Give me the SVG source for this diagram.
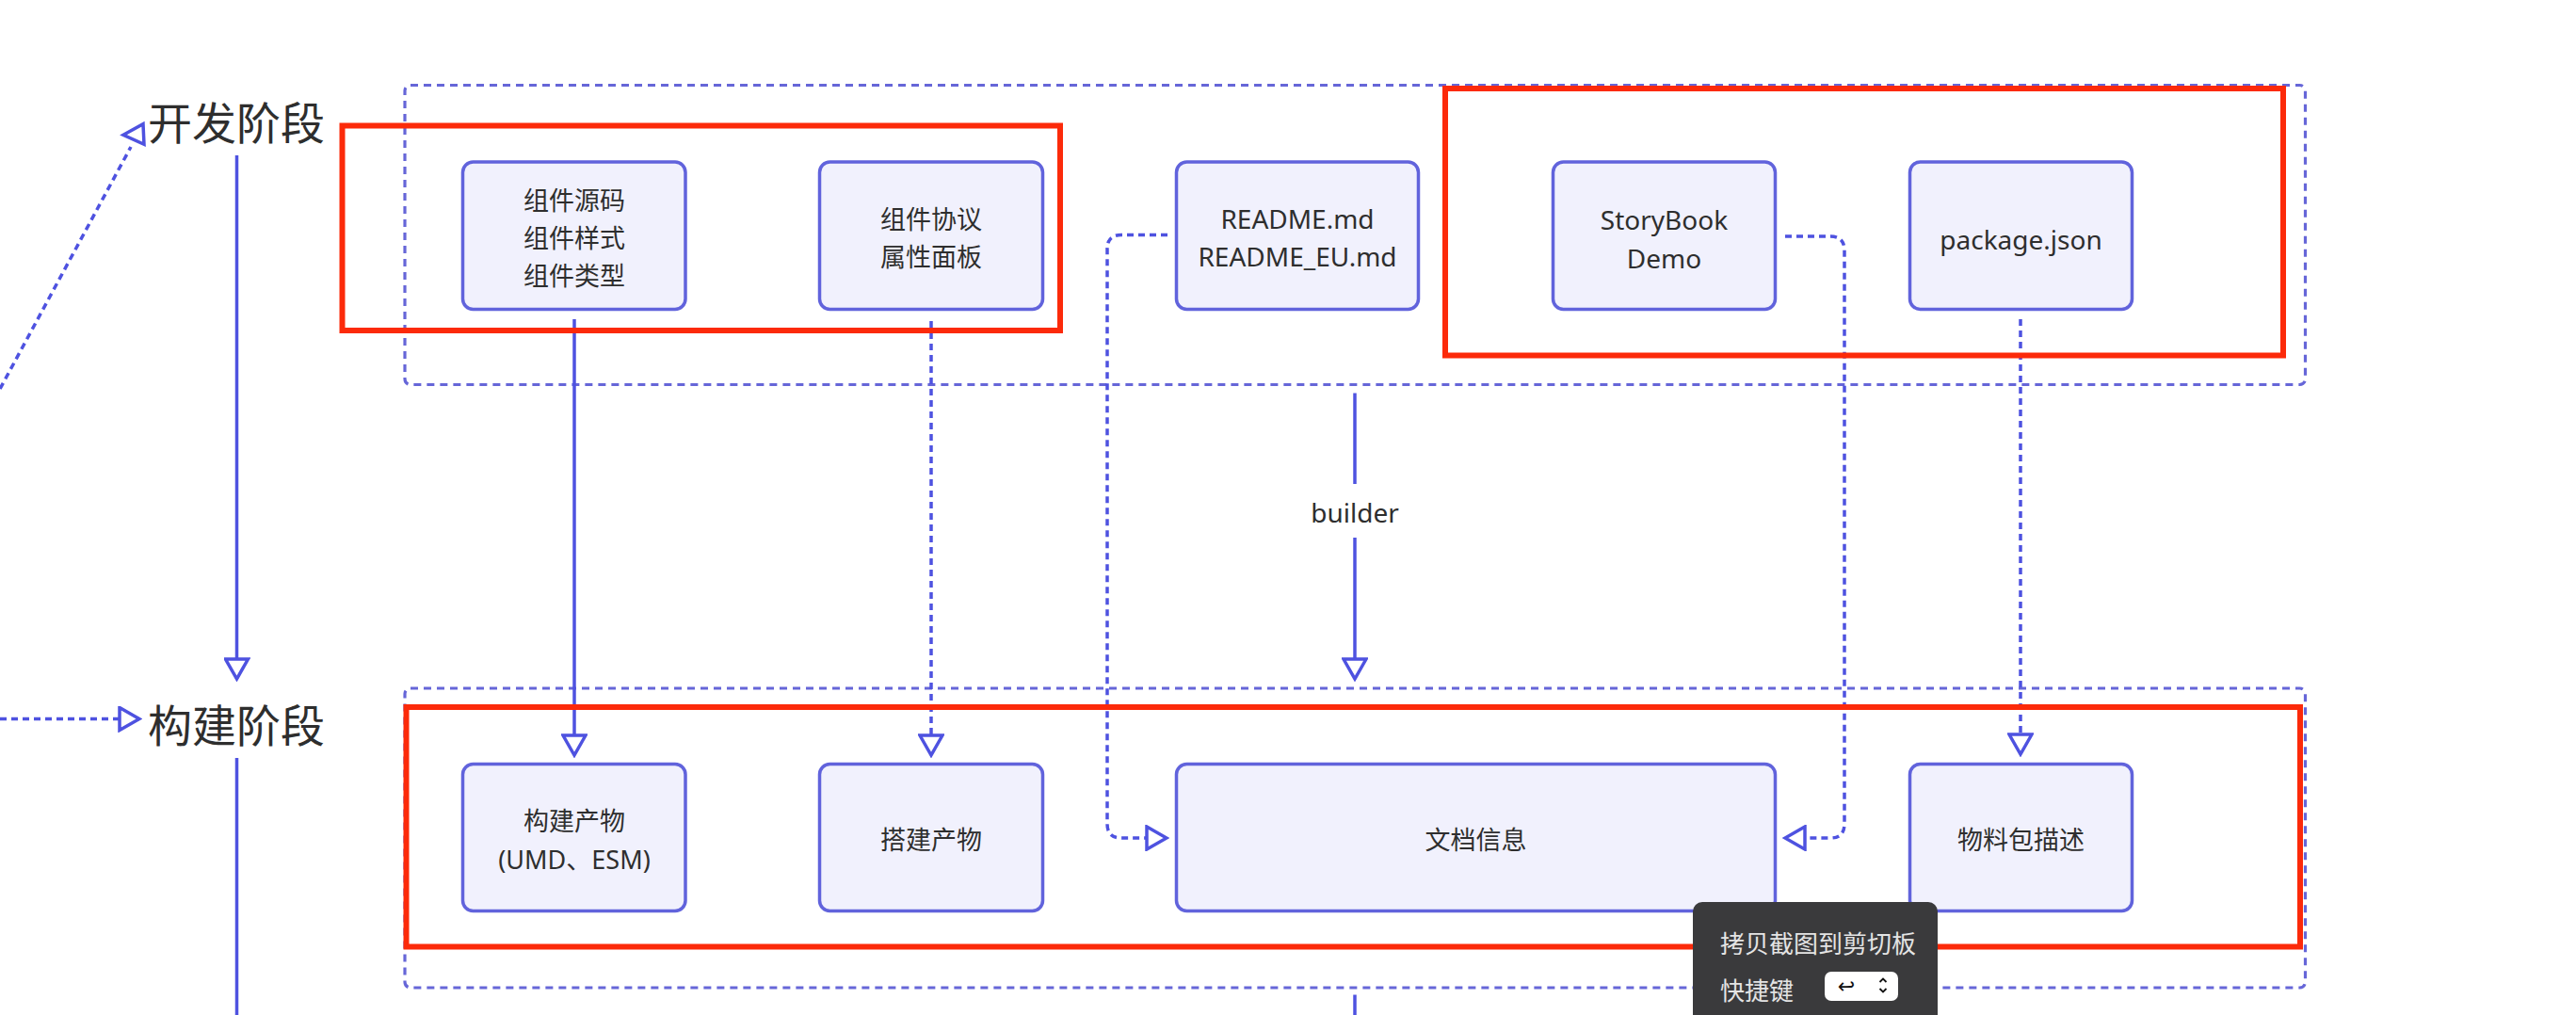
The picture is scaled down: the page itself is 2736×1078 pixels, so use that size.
<svg xmlns="http://www.w3.org/2000/svg" width="2736" height="1078" viewBox="0 0 2736 1078">
<defs>
<style>
.grp{fill:none;stroke:#6666d8;stroke-width:3.2;stroke-dasharray:8 6}
.node rect{fill:#f1f1fd;stroke:#6163dc;stroke-width:3.5}
.txt{font-family:"Noto Sans","Noto Sans CJK SC",sans-serif;font-size:27px;fill:#2e2e2e;text-anchor:middle;dominant-baseline:central}
.en{font-size:28px}
.phase{font-family:"Noto Sans CJK SC","Noto Sans",sans-serif;font-size:47px;fill:#2e2e2e;dominant-baseline:central}
.edge{fill:none;stroke:#4e52e0;stroke-width:3.5}
.dash{stroke-dasharray:7 5}
.red{fill:none;stroke:#fc2a0a;stroke-width:6}
.tip{font-family:"Noto Sans CJK SC","Noto Sans",sans-serif;font-size:26px;fill:#e4e4e4;dominant-baseline:central}
</style>
<marker id="tri" markerUnits="userSpaceOnUse" viewBox="0 0 26 28" markerWidth="26" markerHeight="28" refX="23" refY="14" orient="auto">
<path d="M2,2 L23,14 L2,26 z" fill="#fff" stroke="#4e52e0" stroke-width="3.5" stroke-dasharray="none"/>
</marker>
</defs>
<rect width="2736" height="1078" fill="#fff"/>

<g id="groups">
<rect id="group-dev" class="grp" x="430" y="90.5" width="2018.5" height="318" rx="6"/>
<rect id="group-build" class="grp" x="430" y="731" width="2018.5" height="318" rx="6"/>
</g>

<g id="connectors">
<path class="edge" d="M251.5,165 V721" marker-end="url(#tri)"/>
<path class="edge" d="M251.5,805 V1078"/>
<path class="edge dash" d="M0,413 L139,156"/>
<polygon points="131,143.3 152,131.7 153,153.3" fill="#fff" stroke="#4e52e0" stroke-width="3.5"/>
<path class="edge dash" d="M0,763.5 H148" marker-end="url(#tri)"/>
<path class="edge" d="M610,339 V802" marker-end="url(#tri)"/>
<path class="edge dash" d="M989,341 V802" marker-end="url(#tri)"/>
<path class="edge dash" d="M1240,249.5 H1191 Q1176,249.5 1176,264.5 V875 Q1176,890 1191,890 H1239" marker-end="url(#tri)"/>
<path class="edge" d="M1439,417.5 V514"/>
<path class="edge" d="M1439,571 V721" marker-end="url(#tri)"/>
<path class="edge" d="M1439,1056.5 V1078"/>
<text class="txt en" x="1439" y="544">builder</text>
<path class="edge dash" d="M1896,251 H1944 Q1959,251 1959,266 V875 Q1959,890 1944,890 H1896" marker-end="url(#tri)"/>
<path class="edge dash" d="M2146,339 V801" marker-end="url(#tri)"/>
</g>

<g id="phase-dev"><text class="phase" x="157" y="127">开发阶段</text></g>
<g id="phase-build"><text class="phase" x="157" y="767">构建阶段</text></g>

<g id="node-src" class="node">
<rect x="491.5" y="172" width="236.5" height="156.5" rx="11"/>
<text class="txt" x="610" y="212.6">组件源码</text>
<text class="txt" x="610" y="252.6">组件样式</text>
<text class="txt" x="610" y="292.6">组件类型</text>
</g>
<g id="node-protocol" class="node">
<rect x="870.5" y="172" width="237" height="156.5" rx="11"/>
<text class="txt" x="989" y="232.4">组件协议</text>
<text class="txt" x="989" y="272.8">属性面板</text>
</g>
<g id="node-readme" class="node">
<rect x="1249.5" y="172" width="257" height="156.5" rx="11"/>
<text class="txt en" x="1378" y="231.7">README.md</text>
<text class="txt en" x="1378" y="271.7">README_EU.md</text>
</g>
<g id="node-storybook" class="node">
<rect x="1649.5" y="172" width="236" height="156.5" rx="11"/>
<text class="txt en" x="1767.5" y="232.7">StoryBook</text>
<text class="txt en" x="1767.5" y="273.6">Demo</text>
</g>
<g id="node-package" class="node">
<rect x="2028.5" y="172" width="236" height="156.5" rx="11"/>
<text class="txt en" x="2146.5" y="254">package.json</text>
</g>

<g id="node-artifact" class="node">
<rect x="491.5" y="811.5" width="236.5" height="156" rx="11"/>
<text class="txt" x="610" y="871">构建产物</text>
<text class="txt" x="610" y="912">(UMD、ESM)</text>
</g>
<g id="node-setup" class="node">
<rect x="870.5" y="811.5" width="237" height="156" rx="11"/>
<text class="txt" x="989" y="891">搭建产物</text>
</g>
<g id="node-docs" class="node">
<rect x="1249.5" y="811.5" width="636" height="156" rx="11"/>
<text class="txt" x="1567.5" y="891">文档信息</text>
</g>
<g id="node-desc" class="node">
<rect x="2028.5" y="811.5" width="236" height="156" rx="11"/>
<text class="txt" x="2146.5" y="891">物料包描述</text>
</g>

<g id="highlights">
<rect class="red" x="363.5" y="133.5" width="762.5" height="217.5"/>
<rect class="red" x="1535" y="94" width="890" height="283.5"/>
<rect class="red" x="431.5" y="751" width="2011.5" height="254.5"/>
</g>

<g id="tooltip">
<rect x="1798" y="958" width="260" height="140" rx="10" fill="#3a3a3c"/>
<text class="tip" x="1827" y="1000">拷贝截图到剪切板</text>
<text class="tip" x="1827" y="1050">快捷键</text>
<rect x="1938" y="1032" width="78" height="31" rx="7" fill="#fff"/>
<text x="1961" y="1047" font-family="DejaVu Sans, sans-serif" font-size="22" fill="#111" text-anchor="middle" dominant-baseline="central">↩</text>
<polyline points="1996.5,1043 2000,1039.5 2003.5,1043" fill="none" stroke="#111" stroke-width="1.8"/>
<polyline points="1996.5,1050 2000,1053.5 2003.5,1050" fill="none" stroke="#111" stroke-width="1.8"/>
</g>
</svg>
